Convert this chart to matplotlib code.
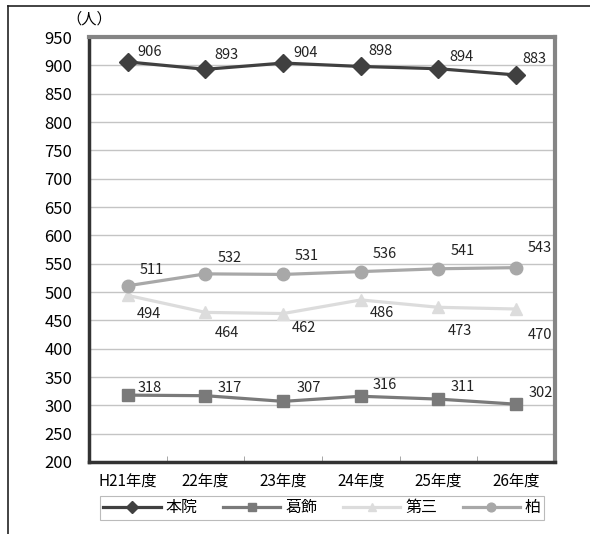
import matplotlib.pyplot as plt
from matplotlib.lines import Line2D

plt.rcParams['font.family'] = ['Noto Sans CJK JP', 'DejaVu Sans']

years = ['H21年度', '22年度', '23年度', '24年度', '25年度', '26年度']
honin = [906, 893, 904, 898, 894, 883]
katsushika = [318, 317, 307, 316, 311, 302]
daisan = [494, 464, 462, 486, 473, 470]
kashiwa = [511, 532, 531, 536, 541, 543]

fig = plt.figure(figsize=(5.9, 5.34), dpi=100)
ax = fig.add_axes([89 / 590, 1 - 462 / 534, 466 / 590, 425 / 534])

x = range(len(years))
series = [
    (honin, '本院', '#404040', 'D', 9),
    (katsushika, '葛飾', '#7a7a7a', 's', 9),
    (daisan, '第三', '#dcdcdc', '^', 9),
    (kashiwa, '柏', '#a8a8a8', 'o', 9),
]
for vals, name, col, mk, ms in series:
    ax.plot(x, vals, color=col, lw=2.3, marker=mk, ms=ms, label=name, zorder=3)

# label offsets in pixels (dx, dy)
off_honin = [(22, 10), (21, 14), (22, 10), (20, 15), (23, 12), (18, 16)]
off_kat = [(22, 7), (24, 8), (26, 13), (24, 11), (24, 12), (25, 11)]
off_dai = [(21, -19), (21, -21), (21, -14), (21, -13), (21, -24), (24, -26)]
off_kas = [(24, 16), (24, 16), (24, 18), (24, 18), (24, 18), (24, 20)]
for vals, offs in [(honin, off_honin), (katsushika, off_kat),
                   (daisan, off_dai), (kashiwa, off_kas)]:
    for i, v in enumerate(vals):
        ax.annotate(str(v), (i, v), xytext=offs[i], textcoords='offset pixels',
                    ha='center', va='center', fontsize=10.5, color='#222222')

ax.set_xlim(-0.5, 5.5)
ax.set_ylim(200, 950)
ax.set_yticks(range(200, 951, 50))
ax.set_xticks(list(x))
ax.set_xticklabels(years, fontsize=11)
ax.set_xticks([0.5, 1.5, 2.5, 3.5, 4.5], minor=True)
ax.tick_params(axis='y', length=0, labelsize=12, pad=12)
ax.tick_params(axis='x', which='major', length=0, pad=8)
ax.tick_params(axis='x', which='minor', direction='in', length=4, color='#999999')
ax.grid(axis='y', color='#c4c4c4', lw=1)
ax.set_axisbelow(True)

for s in ['top', 'right']:
    ax.spines[s].set_color('#858585')
    ax.spines[s].set_linewidth(3)
for s in ['left', 'bottom']:
    ax.spines[s].set_color('#333333')
    ax.spines[s].set_linewidth(2.5)

fig.text(89 / 590, 1 - 19 / 534, '（人）', ha='center', va='center', fontsize=11)

leg = ax.legend(loc='center', bbox_to_anchor=(0.5, -0.108), ncol=4, fontsize=11.5,
                frameon=True, fancybox=False, handlelength=3.6, columnspacing=1.6,
                handletextpad=0.3, borderpad=0.2, markerscale=0.7,
                borderaxespad=0)
leg.get_frame().set_edgecolor('#aaaaaa')
leg.get_frame().set_linewidth(0.8)

# outer frame
fig.add_artist(Line2D([8 / 590, 1], [1 - 6 / 534] * 2, color='#222222', lw=1.2))
fig.add_artist(Line2D([8 / 590] * 2, [0, 1 - 6 / 534], color='#222222', lw=1.2))

fig.savefig('out.png', dpi=100)
